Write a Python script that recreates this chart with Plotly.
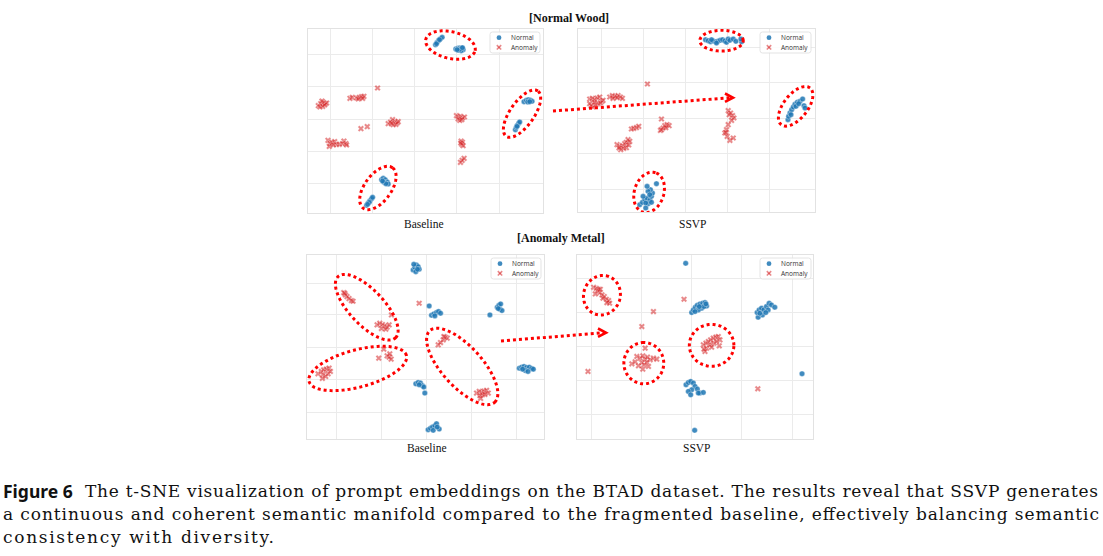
import numpy as np
import plotly.graph_objects as go

# ---------------- data (t-SNE coordinates) ----------------
wood_base_normal_x = [6.2,6.7,7.2,7.7,8.2,6.5,7.4, 12.3,12.9,13.5,14.1,14.5,13.1,13.9,13.5,12.7,14.3,
                      32.8,33.5,34.1,34.7,35.2,33.9,34.5, 30.2,30.5,30.8,31.2,31.5,30.7,
                      -10.0,-9.5,-8.9,-8.3,-8.0,-9.3,-8.7,-9.7, -14.5,-14.0,-13.5,-13.0,-12.7,-13.7,-14.2]
wood_base_normal_y = [22.3,23.0,23.6,24.1,24.5,22.6,23.8, 21.0,21.2,21.3,21.2,20.8,20.6,20.5,20.9,20.8,21.4,
                      5.2,5.6,5.8,5.6,5.3,5.1,5.2, -3.2,-2.5,-1.9,-1.3,-0.9,-2.2,
                      -18.2,-17.8,-18.2,-18.9,-19.5,-19.0,-19.4,-18.6, -25.9,-25.2,-24.5,-23.9,-23.5,-25.0,-25.6]
wood_base_anom_x = [-11.2, -19.5,-18.8,-17.5,-16.7,-16.0,-15.3,-17.0,-15.7,
                    -29.0,-28.3,-27.5,-26.9,-26.5,-28.5,-27.7,-27.1,-27.9,
                    -8.0,-7.3,-6.7,-6.0,-5.3,-6.5,-5.7,-7.0,-5.0, -16.2,-14.3,
                    -26.1,-25.5,-24.9,-24.1,-23.5,-22.7,-21.3,-20.7,-25.7,-24.5,-21.7,-20.5,
                    12.5,13.1,13.7,14.3,14.9,13.0,13.5,14.1, 13.9,14.3,14.1,14.5,13.8, 13.7,14.2,14.8]
wood_base_anom_y = [9.3, 6.2,6.5,6.3,6.5,6.7,6.8,6.0,6.2,
                    4.0,4.6,5.0,4.6,4.8,3.6,3.8,4.2,5.4,
                    -1.4,-0.9,-0.2,-0.7,-1.2,-1.7,-1.6,-1.3,-0.8, -2.9,-2.3,
                    -6.4,-7.4,-7.0,-6.8,-7.6,-7.6,-6.6,-7.4,-8.2,-7.8,-7.4,-7.8,
                    1.0,0.6,0.8,0.3,0.6,0.0,-0.4,-0.2, -6.6,-7.0,-7.6,-8.0,-7.2, -13.0,-12.4,-11.8]

wood_ssvp_normal_x = [6.0,6.8,7.5,8.3,9.0,9.7,10.4,11.1,11.8,12.3,12.8,13.3,14.3,15.1,16.8,16.6,7.8,9.3,
                      30.7,30.9,31.3,31.8,32.3,32.8,33.5,34.3,35.1,35.5,35.8,33.1,33.9,31.6,
                      -13.7,-12.9,-12.2,-11.5,-10.7,-11.2,-11.9,-10.2,-9.9,-10.5,-11.2,-10.7,-8.7,-11.5,-12.7,-11.9,-10.2]
wood_ssvp_normal_y = [23.5,23.2,22.9,23.1,22.9,23.0,23.3,23.5,23.1,22.7,23.7,23.3,23.7,23.0,22.9,23.7,23.5,22.5,
                      -0.5,0.5,1.5,2.5,3.3,4.1,4.7,5.0,5.7,3.7,3.0,3.5,4.3,1.0,
                      -26.0,-25.3,-24.5,-24.1,-24.7,-25.7,-25.5,-23.5,-22.5,-21.5,-22.0,-23.0,-19.7,-20.5,-23.5,-27.0,-25.3]
wood_ssvp_anom_x = [-11.4, -28.7,-27.9,-27.2,-26.5,-25.7,-25.1,-24.7,-28.2,-27.7,-26.9,-26.2,-25.5,-28.7,-27.3,
                    -22.7,-21.9,-21.1,-20.2,-19.5,-18.9,-21.7,-20.5, -16.2,-15.5,-14.7,-14.0,
                    -20.5,-19.7,-18.9,-18.2,-17.7,-17.2,-16.7,-19.4,-18.5,-17.7,-17.0,-19.9,
                    -7.2,-7.5,-6.7,-6.2,-5.5,-4.9,-7.2,-5.9,
                    12.8,13.5,14.1,14.5,13.8,12.8,12.3,11.8,12.5,13.3,14.3,13.1,12.1]
wood_ssvp_anom_y = [10.2, 5.7,5.9,5.5,6.0,6.3,5.0,5.3,3.7,3.3,3.9,4.3,4.5,4.3,4.7,
                    6.3,6.7,6.5,6.7,6.3,5.9,5.9,6.1, -3.3,-3.1,-2.9,-2.5,
                    -8.0,-8.5,-8.3,-7.7,-7.3,-6.5,-7.0,-9.5,-9.1,-8.9,-8.1,-9.0,
                    -0.3,-3.7,-3.0,-2.3,-2.0,-2.3,-3.5,-2.9,
                    2.2,1.5,0.7,0.0,-0.7,-2.0,-3.5,-4.5,-5.5,-6.7,-6.0,1.0,-4.3]

metal_base_normal_x = [-4.0,-3.5,-3.0,-2.5,-2.2,-3.2,-3.8,-2.7, 0.8, 1.5,2.2,3.0,3.6,4.2,2.5, 19.0,
                       21.2,21.7,22.2,22.0,22.6,21.5, 27.8,28.5,29.2,30.0,30.8,31.5,32.0,29.6,30.4,28.8,
                       -3.2,-2.5,-1.8,-1.2,-0.8,-0.5,-2.2, 0.5,1.2,1.8,2.5,3.0,3.8,2.0,3.2]
metal_base_normal_y = [23.2,24.0,24.7,24.2,23.4,22.7,24.9,23.4, 12.4, 9.6,10.0,10.4,10.7,10.2,9.4, 9.7,
                       12.0,12.6,13.0,11.4,11.0,11.6, -6.3,-6.0,-5.8,-6.1,-6.0,-6.4,-6.6,-7.0,-7.3,-6.6,
                       -11.0,-10.6,-10.8,-11.6,-12.0,-13.8,-11.3, -24.8,-24.4,-24.0,-23.6,-23.0,-24.6,-25.0,-24.0]
metal_base_anom_x = [-24.8,-24.3,-23.8,-23.2,-22.5,-22.0,-24.5, -2.2,
                     -14.8,-14.0,-13.2,-12.5,-11.8,-11.2,-10.5,-13.5,-12.2,
                     3.5,4.2,5.0,5.6,6.2,5.2, -12.8,-14.3,-11.8,-11.2,-10.6,-11.0,
                     -32.5,-31.5,-30.8,-30.0,-29.2,-31.0,-30.2,-29.5,-28.8,-31.2,
                     15.0,15.8,16.5,17.2,18.0,18.5,16.8,16.0,17.5,16.2]
metal_base_anom_y = [16.4,15.7,15.2,14.6,14.0,13.8,16.2, 13.2,
                     6.7,7.2,6.8,6.4,6.0,6.7,9.7,5.6,5.4,
                     0.7,1.4,2.2,3.0,2.7,3.2, -0.6,-3.3,-2.6,-3.0,-3.6,-2.0,
                     -8.0,-7.3,-6.8,-6.6,-6.3,-8.3,-8.8,-8.0,-7.3,-9.4,
                     -13.8,-13.3,-13.6,-13.2,-13.0,-13.8,-14.3,-14.6,-14.2,-15.4]

metal_ssvp_normal_x = [-1.8, 0.0,0.5,1.1,1.7,2.5,3.3,4.0,4.5,3.0,2.0,3.7,1.0,2.3,4.3,
                       20.0,19.7,20.3,21.0,21.7,22.5,23.3,24.0,25.0,21.3,20.5,23.0,22.3,
                       -1.7,-1.0,-0.3,0.5,1.0,1.7,2.5,3.5,0.0,-1.0,-0.3,2.0, 33.2, 0.9]
metal_ssvp_normal_y = [25.0, 10.2,11.0,11.8,12.4,12.8,13.0,13.2,12.2,11.5,11.0,12.0,10.5,12.0,12.8,
                       8.8,10.2,11.0,11.5,11.0,12.0,13.0,12.5,11.8,9.5,10.0,11.0,10.2,
                       -11.5,-10.8,-10.5,-11.0,-12.0,-12.8,-14.0,-13.8,-13.0,-13.5,-14.5,-14.0, -8.2, -25.2]
metal_ssvp_anom_x = [-29.5,-28.7,-28.3,-27.7,-27.0,-26.3,-25.7,-25.0,-24.7,-29.0,-28.0,-26.7,-25.5,-27.5,
                     -2.3, -11.5, -15.0, -31.2, 19.9,
                     -14.0,-16.5,-15.5,-14.7,-14.0,-13.3,-12.5,-11.5,-10.5,-15.0,-14.3,-13.5,-14.7,-18.0,-17.0,-13.0,-16.0,
                     3.5,4.3,5.0,5.7,6.5,7.3,8.0,8.5,8.3,4.5,4.0,5.5,6.7,7.5,3.7,6.0]
metal_ssvp_anom_y = [17.8,17.5,16.8,16.2,15.5,15.0,14.2,13.8,13.0,15.8,17.2,14.5,13.2,17.2,
                     14.2, 10.5, 6.0, -7.5, -12.7,
                     -0.5,-3.0,-3.5,-2.8,-3.8,-3.2,-4.0,-3.5,-3.8,-4.8,-5.5,-4.8,-6.8,-5.2,-4.6,-6.0,-5.8,
                     0.5,1.0,1.5,2.0,2.5,2.8,3.0,2.0,0.2,-0.5,-1.5,0.5,1.0,1.5,-0.8,-0.2]

series_names = ["Normal", "Anomaly"]
panel_labels = ["Baseline", "SSVP", "Baseline", "SSVP"]
row_titles = ["[Normal Wood]", "[Anomaly Metal]"]

# ---------------- layout helpers ----------------
W, H = 1103, 556
def px(x): return x / W
def py(y): return 1 - y / H

BLUE = "rgba(31,119,180,0.85)"
RED = "rgba(214,39,40,0.55)"

panels = [
    dict(data=(wood_base_normal_x, wood_base_normal_y, wood_base_anom_x, wood_base_anom_y),
         dom=(308, 543, 29, 213), xr=(-32.1, 38.5), yr=(-28.2, 27.0),
         xt=[-25.3, -12.7, 0, 12.6, 25.3], yt=[19.5, 9.8, 0, -9.7, -19.3],
         ell=[(10.7, 22.2, 7.6, 4.0, -13), (32.2, 1.6, 8.3, 3.6, 55), (-11.1, -20.7, 7.5, 4.0, 54)],
         leg=(490, 32, 540, 53), label=(424, 224)),
    dict(data=(wood_ssvp_normal_x, wood_ssvp_normal_y, wood_ssvp_anom_x, wood_ssvp_anom_y),
         dom=(578, 815, 29, 212), xr=(-32.2, 38.8), yr=(-28.2, 26.7),
         xt=[-25.2, -12.7, 0, 12.6, 25.3, 38.5], yt=[21.3, 10.7, 0, -10.7, -21.3],
         ell=[(10.8, 23.2, 6.5, 3.1, 0), (33.0, 3.5, 7.0, 3.6, 52), (-10.9, -22.3, 6.2, 4.4, 72)],
         leg=(760, 32, 811, 53), label=(693, 224)),
    dict(data=(metal_base_normal_x, metal_base_normal_y, metal_base_anom_x, metal_base_anom_y),
         dom=(307, 544, 255, 439), xr=(-35.8, 35.2), yr=(-27.6, 27.7),
         xt=[-27.0, -13.5, 0, 13.5, 27.0], yt=[19.2, 9.7, 0, -9.6, -19.6],
         ell=[(-17.9, 12.0, 12.6, 5.2, -47), (-20.6, -6.4, 15.1, 5.6, 15), (10.7, -5.8, 14.5, 6.0, -48)],
         leg=(491, 258, 541, 279), label=(427, 448)),
    dict(data=(metal_ssvp_normal_x, metal_ssvp_normal_y, metal_ssvp_anom_x, metal_ssvp_anom_y),
         dom=(577, 813, 255, 439), xr=(-34.5, 36.5), yr=(-27.8, 27.5),
         xt=[-30.0, -15.0, 0, 15.0, 30.2], yt=[20.5, 10.2, 0, -10.3, -20.3],
         ell=[(-27.0, 15.4, 6.0, 5.5, 70), (-14.4, -5.0, 6.2, 6.0, 90), (6.0, 0.35, 6.7, 6.3, 0)],
         leg=(760, 258, 811, 279), label=(697, 448)),
]

def ellipse_path(cx, cy, a, b, ang, n=90):
    t = np.linspace(0, 2 * np.pi, n)
    th = np.radians(ang)
    xs = cx + a * np.cos(t) * np.cos(th) - b * np.sin(t) * np.sin(th)
    ys = cy + a * np.cos(t) * np.sin(th) + b * np.sin(t) * np.cos(th)
    return "M " + " L ".join(f"{x:.3f},{y:.3f}" for x, y in zip(xs, ys)) + " Z"

def rounded_rect(x0, y0, x1, y1, r=2.5):
    pts = [f"M {px(x0+r):.5f},{py(y0):.5f}", f"L {px(x1-r):.5f},{py(y0):.5f}",
           f"Q {px(x1):.5f},{py(y0):.5f} {px(x1):.5f},{py(y0+r):.5f}",
           f"L {px(x1):.5f},{py(y1-r):.5f}",
           f"Q {px(x1):.5f},{py(y1):.5f} {px(x1-r):.5f},{py(y1):.5f}",
           f"L {px(x0+r):.5f},{py(y1):.5f}",
           f"Q {px(x0):.5f},{py(y1):.5f} {px(x0):.5f},{py(y1-r):.5f}",
           f"L {px(x0):.5f},{py(y0+r):.5f}",
           f"Q {px(x0):.5f},{py(y0):.5f} {px(x0+r):.5f},{py(y0):.5f} Z"]
    return " ".join(pts)

fig = go.Figure()
shapes, annotations = [], []
layout_axes = {}

for i, p in enumerate(panels, start=1):
    xa = "x" if i == 1 else f"x{i}"
    ya = "y" if i == 1 else f"y{i}"
    nx, ny, ax_, ay_ = p["data"]
    fig.add_trace(go.Scatter(x=nx, y=ny, mode="markers", name=series_names[0], xaxis=xa, yaxis=ya,
                             showlegend=False,
                             marker=dict(symbol="circle", size=5.5, color=BLUE,
                                         line=dict(color="rgba(255,255,255,0.7)", width=0.5))))
    fig.add_trace(go.Scatter(x=ax_, y=ay_, mode="markers", name=series_names[1], xaxis=xa, yaxis=ya,
                             showlegend=False,
                             marker=dict(symbol="x", size=5.5, color=RED,
                                         line=dict(color="rgba(255,255,255,0.6)", width=0.4))))
    x0, x1, y0, y1 = p["dom"]
    axkey = "xaxis" if i == 1 else f"xaxis{i}"
    aykey = "yaxis" if i == 1 else f"yaxis{i}"
    common = dict(showticklabels=False, ticks="", zeroline=False, showline=True, mirror=True,
                  linecolor="#e2e2e2", linewidth=1, gridcolor="#ebebeb", gridwidth=1,
                  tickmode="array", fixedrange=True)
    layout_axes[axkey] = dict(common, domain=[px(x0), px(x1)], range=list(p["xr"]),
                              tickvals=p["xt"], anchor=ya)
    layout_axes[aykey] = dict(common, domain=[py(y1), py(y0)], range=list(p["yr"]),
                              tickvals=p["yt"], anchor=xa)
    for (cx, cy, a, b, ang) in p["ell"]:
        shapes.append(dict(type="path", path=ellipse_path(cx, cy, a, b, ang), xref=xa, yref=ya,
                           line=dict(color="red", width=3, dash="dot")))
    # legend box
    lx0, ly0, lx1, ly1 = p["leg"]
    shapes.append(dict(type="path", xref="paper", yref="paper", path=rounded_rect(lx0, ly0, lx1, ly1),
                       line=dict(color="#dddddd", width=0.8), fillcolor="rgba(255,255,255,0.85)"))
    mx = lx0 + 9
    r1, r2 = ly0 + 5.7, ly0 + 15.3
    shapes.append(dict(type="circle", xref="paper", yref="paper", x0=px(mx - 2.4), x1=px(mx + 2.4),
                       y0=py(r1 + 2.4), y1=py(r1 - 2.4), fillcolor=BLUE, line=dict(width=0)))
    for dx, dy in [(1, 1), (1, -1)]:
        shapes.append(dict(type="line", xref="paper", yref="paper",
                           x0=px(mx - 2.2 * dx), x1=px(mx + 2.2 * dx),
                           y0=py(r2 - 2.2 * dy), y1=py(r2 + 2.2 * dy),
                           line=dict(color=RED, width=1.6)))
    for name, ry in zip(series_names, [r1, r2]):
        annotations.append(dict(text=name, xref="paper", yref="paper", x=px(mx + 10), y=py(ry),
                                xanchor="left", yanchor="middle", showarrow=False,
                                font=dict(family="Open Sans", size=6.5, color="#333333")))
    # panel label
    lx, ly = p["label"]
    annotations.append(dict(text=panel_labels[i - 1], xref="paper", yref="paper", x=px(lx), y=py(ly),
                            xanchor="center", yanchor="middle", showarrow=False,
                            font=dict(family="Liberation Serif", size=11.5, color="#111111")))

# row titles
for t, (tx, ty) in zip(row_titles, [(569, 18), (561, 238)]):
    annotations.append(dict(text=f"<b>{t}</b>", xref="paper", yref="paper", x=px(tx), y=py(ty),
                            xanchor="center", yanchor="middle", showarrow=False,
                            font=dict(family="Liberation Serif", size=12, color="#111111")))

# dotted arrows between panels
arrows = [((553, 111), (733, 97.7)), ((501, 341), (606, 332.7))]
for (sx, sy), (ex, ey) in arrows:
    shapes.append(dict(type="line", xref="paper", yref="paper", x0=px(sx), y0=py(sy),
                       x1=px(ex - 2), y1=py(ey), line=dict(color="red", width=3, dash="dot")))
    shapes.append(dict(type="path", xref="paper", yref="paper",
                       path=f"M {px(ex-8):.5f},{py(ey-4.2):.5f} L {px(ex):.5f},{py(ey):.5f} L {px(ex-8):.5f},{py(ey+4.2):.5f}",
                       line=dict(color="red", width=2.6)))

# caption
cap_lines = [
    "The t-SNE visualization of prompt embeddings on the BTAD dataset. The results reveal that SSVP generates",
    "a continuous and coherent semantic manifold compared to the fragmented baseline, effectively balancing semantic",
    "consistency with diversity.",
]
annotations.append(dict(text="<b>Figure 6</b>", xref="paper", yref="paper", x=px(1), y=py(491),
                        xanchor="left", yanchor="middle", showarrow=False,
                        font=dict(family="Noto Sans", size=17.5, color="#111111")))
for line, (lx, ly) in zip(cap_lines, [(83, 491), (1, 514), (1, 537)]):
    annotations.append(dict(text=line, xref="paper", yref="paper", x=px(lx), y=py(ly),
                            xanchor="left", yanchor="middle", align="left", showarrow=False,
                            font=dict(family="DejaVu Serif, Liberation Serif, serif", size=17,
                                      color="#111111")))

fig.update_layout(width=W, height=H, margin=dict(l=0, r=0, t=0, b=0), autosize=False,
                  paper_bgcolor="white", plot_bgcolor="white", showlegend=False,
                  shapes=shapes, annotations=annotations, **layout_axes)

# justify the caption lines to the text block width (like the typeset original)
post = """
document.body.style.margin='0';
var targets = {'The t-SNE': 1013, 'a continuous': 1096, 'consistency with': 271};
document.querySelectorAll('text.annotation-text').forEach(function(t){
  var s = t.textContent;
  Object.keys(targets).forEach(function(k){
    if (s.indexOf(k) === 0) {
      t.setAttribute('textLength', targets[k]);
      t.setAttribute('lengthAdjust', 'spacing');
    }
  });
});
"""
fig.write_html("out.html", config={"displayModeBar": False}, post_script=post)
